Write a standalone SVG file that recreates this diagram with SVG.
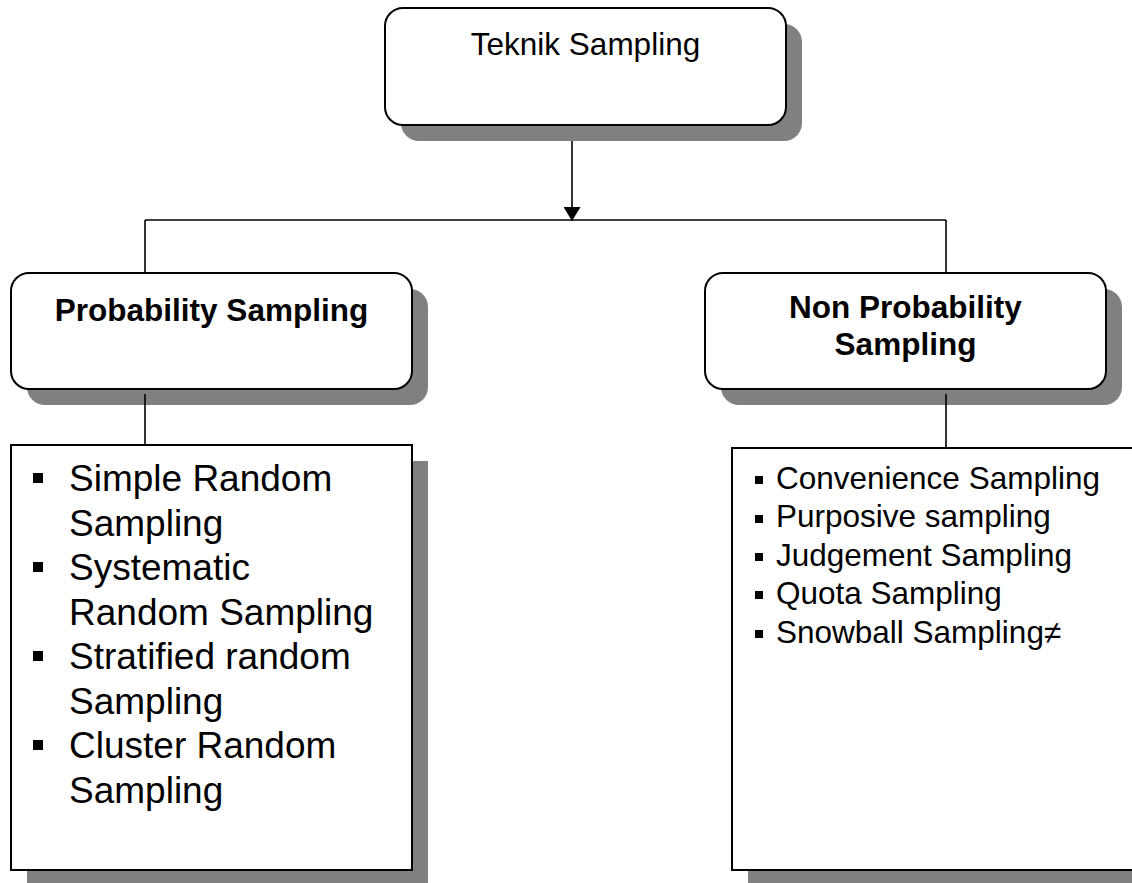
<svg xmlns="http://www.w3.org/2000/svg" width="1132" height="883" viewBox="0 0 1132 883">
  <defs>
    <marker id="arrowHead" markerUnits="userSpaceOnUse" markerWidth="15" markerHeight="17" refX="14" refY="8.5" orient="auto">
      <path d="M0,0 L14,8.5 L0,17 Z" fill="#000"/>
    </marker>
  </defs>
  <style>
    .shadow { fill: #808080; }
    .box { fill: #fff; stroke: #000; stroke-width: 2; }
    .conn { stroke: #000; stroke-width: 1.6; fill: none; }
    .title { font-family: "Liberation Sans", Arial, sans-serif; font-size: 31.5px; fill: #000; }
    .bold { font-weight: bold; }
    .big { font-family: "Liberation Sans", Arial, sans-serif; font-size: 37px; fill: #000; }
    .small { font-family: "Liberation Sans", Arial, sans-serif; font-size: 31.5px; fill: #000; }
    .bullet { fill: #000; }
  </style>
  <rect width="1132" height="883" fill="#fff"/>

  <!-- connectors -->
  <g id="connectors">
    <line class="conn" x1="572" y1="135" x2="572" y2="221" stroke-width="2.5" marker-end="url(#arrowHead)"/>
    <line class="conn" x1="145" y1="220" x2="946" y2="220"/>
    <line class="conn" x1="145" y1="220" x2="145" y2="274"/>
    <line class="conn" x1="946" y1="220" x2="946" y2="274"/>
  </g>

  <!-- root -->
  <g id="teknik-sampling">
    <rect class="shadow" x="401" y="24" width="401" height="117" rx="18"/>
    <rect class="box" x="385" y="8" width="401" height="117" rx="18"/>
    <text class="title" x="585.5" y="55" text-anchor="middle">Teknik Sampling</text>
  </g>

  <!-- probability branch -->
  <g id="probability-sampling">
    <rect class="shadow" x="27" y="289" width="401" height="116" rx="18"/>
    <rect class="box" x="11" y="273" width="401" height="116" rx="18"/>
    <text class="title bold" x="211.5" y="321" text-anchor="middle">Probability Sampling</text>
  </g>

  <line class="conn" x1="145" y1="394" x2="145" y2="446"/>

  <g id="probability-list">
    <rect class="shadow" x="27" y="461" width="401" height="425"/>
    <rect class="box" x="11" y="445" width="401" height="425"/>
    <rect class="bullet" x="33" y="473" width="10" height="10"/>
    <rect class="bullet" x="33" y="562" width="10" height="10"/>
    <rect class="bullet" x="33" y="651" width="10" height="10"/>
    <rect class="bullet" x="33" y="740" width="10" height="10"/>
    <text class="big" x="69" y="491">Simple Random</text>
    <text class="big" x="69" y="535.5">Sampling</text>
    <text class="big" x="69" y="580">Systematic</text>
    <text class="big" x="69" y="624.5">Random Sampling</text>
    <text class="big" x="69" y="669">Stratified random</text>
    <text class="big" x="69" y="713.5">Sampling</text>
    <text class="big" x="69" y="758">Cluster Random</text>
    <text class="big" x="69" y="802.5">Sampling</text>
  </g>

  <!-- non-probability branch -->
  <g id="non-probability-sampling">
    <rect class="shadow" x="721" y="289" width="401" height="116" rx="18"/>
    <rect class="box" x="705" y="273" width="401" height="116" rx="18"/>
    <text class="title bold" x="905.5" y="318" text-anchor="middle">Non Probability</text>
    <text class="title bold" x="905.5" y="355" text-anchor="middle">Sampling</text>
  </g>

  <line class="conn" x1="946" y1="394" x2="946" y2="449"/>

  <g id="non-probability-list">
    <rect class="shadow" x="748" y="464" width="420" height="422"/>
    <rect class="box" x="732" y="448" width="420" height="422"/>
    <rect class="bullet" x="755" y="476" width="8" height="8"/>
    <rect class="bullet" x="755" y="515" width="8" height="8"/>
    <rect class="bullet" x="755" y="553" width="8" height="8"/>
    <rect class="bullet" x="755" y="591" width="8" height="8"/>
    <rect class="bullet" x="755" y="630" width="8" height="8"/>
    <text class="small" x="776" y="488.5">Convenience Sampling</text>
    <text class="small" x="776" y="527">Purposive sampling</text>
    <text class="small" x="776" y="565.5">Judgement Sampling</text>
    <text class="small" x="776" y="604">Quota Sampling</text>
    <text class="small" x="776" y="642.5">Snowball Sampling≠</text>
  </g>
</svg>
